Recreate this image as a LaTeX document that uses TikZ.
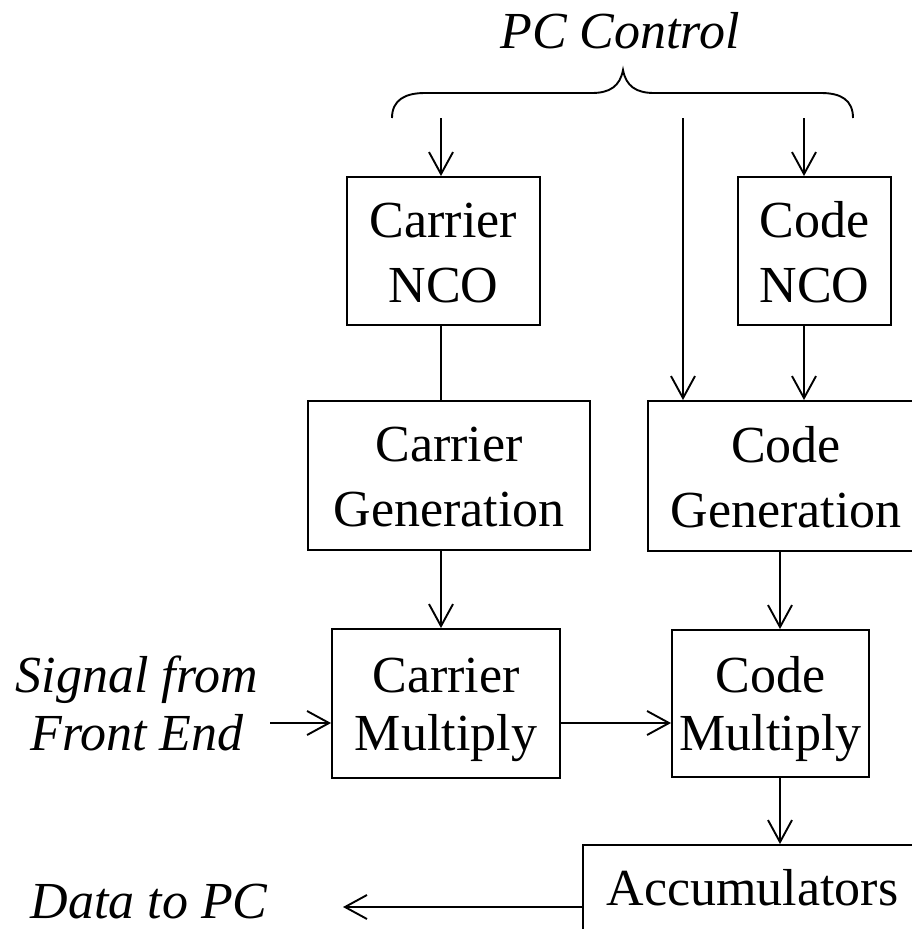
\documentclass[tikz,border=0pt]{standalone}
\usepackage{fontspec}
\setmainfont{Liberation Serif}
\usetikzlibrary{arrows.meta}

% line struts: 65pt and 58pt line pitch
\newcommand\strA{\rule[-14pt]{0pt}{65pt}}
\newcommand\strB{\rule[-11.5pt]{0pt}{58pt}}

\tikzset{
  ln/.style={line width=1.9pt},
  arr/.style={ln, -{Straight Barb[length=22pt,width=24pt,line width=1.9pt]}},
  blk/.style={draw, ln, inner sep=0pt, align=center,
    font=\fontsize{52}{65}\selectfont},
  blkm/.style={blk, font=\fontsize{52}{58}\selectfont},
  lbl/.style={inner sep=0pt, align=center, font=\fontsize{52}{58}\selectfont\itshape}
}

\begin{document}
\begin{tikzpicture}[x=1pt,y=-1pt]
\useasboundingbox (0,0) rectangle (912,929);

% title and brace
\node[lbl, anchor=base] (pc) at (620,48) {PC Control};
\coordinate (tip) at (623,70);
\draw[ln] (392,118) .. controls (392,100) and (405,93) .. (425,93) -- (592,93)
  .. controls (610,93) and (620,86) .. (tip)
  .. controls (626,86) and (636,93) .. (654,93) -- (821,93)
  .. controls (841,93) and (853,100) .. (853,118);

% blocks
\node[blk, minimum width=193pt, minimum height=148pt] (cnco) at (443.5,251) {\strA Carrier\\\strA NCO};
\node[blk, minimum width=153pt, minimum height=148pt] (knco) at (814.5,251) {\strA Code\\\strA NCO};
\node[blk, minimum width=282pt, minimum height=149pt] (cgen) at (449,475.5) {\strA Carrier\\\strA Generation};
\node[blk, minimum width=276pt, minimum height=150pt] (kgen) at (786,476) {\strA Code\\\strA Generation};
\node[blkm, minimum width=228pt, minimum height=149pt] (cmul) at (446,703.5) {\strB Carrier\\\strB Multiply};
\node[blkm, minimum width=197pt, minimum height=147pt] (kmul) at (770.5,703.5) {\strB Code\\\strB Multiply};
\node[blk, minimum width=339pt, minimum height=86pt, text height=40pt, text depth=6pt]
  (acc) at (752.5,888) {Accumulators};

% side labels
\node[lbl] (sig) at (137,703.5) {\strB Signal from\\\strB Front End};
\node[lbl, anchor=base] (data) at (149,918) {Data to PC};

% free ends and rails
\coordinate (b1) at (441,118);
\coordinate (b2) at (683,118);
\coordinate (b3) at (804,118);
\coordinate (kx) at (780,0);
\coordinate (hy) at (0,723);
\coordinate (sigend) at (270,723);
\coordinate (dy) at (0,907);
\coordinate (dataend) at (343,907);

% connectors
\draw[arr] (b1) -- (b1 |- cnco.north);
\draw[arr] (b2) -- (b2 |- kgen.north);
\draw[arr] (b3) -- (b3 |- knco.north);
\draw[ln]  (b1 |- cnco.south) -- (b1 |- cgen.north);
\draw[arr] (b3 |- knco.south) -- (b3 |- kgen.north);
\draw[arr] (b1 |- cgen.south) -- (b1 |- cmul.north);
\draw[arr] (kx |- kgen.south) -- (kx |- kmul.north);
\draw[arr] (sigend) -- (cmul.west |- hy);
\draw[arr] (cmul.east |- hy) -- (kmul.west |- hy);
\draw[arr] (kx |- kmul.south) -- (kx |- acc.north);
\draw[arr] (acc.west |- dy) -- (dataend);
\end{tikzpicture}
\end{document}
